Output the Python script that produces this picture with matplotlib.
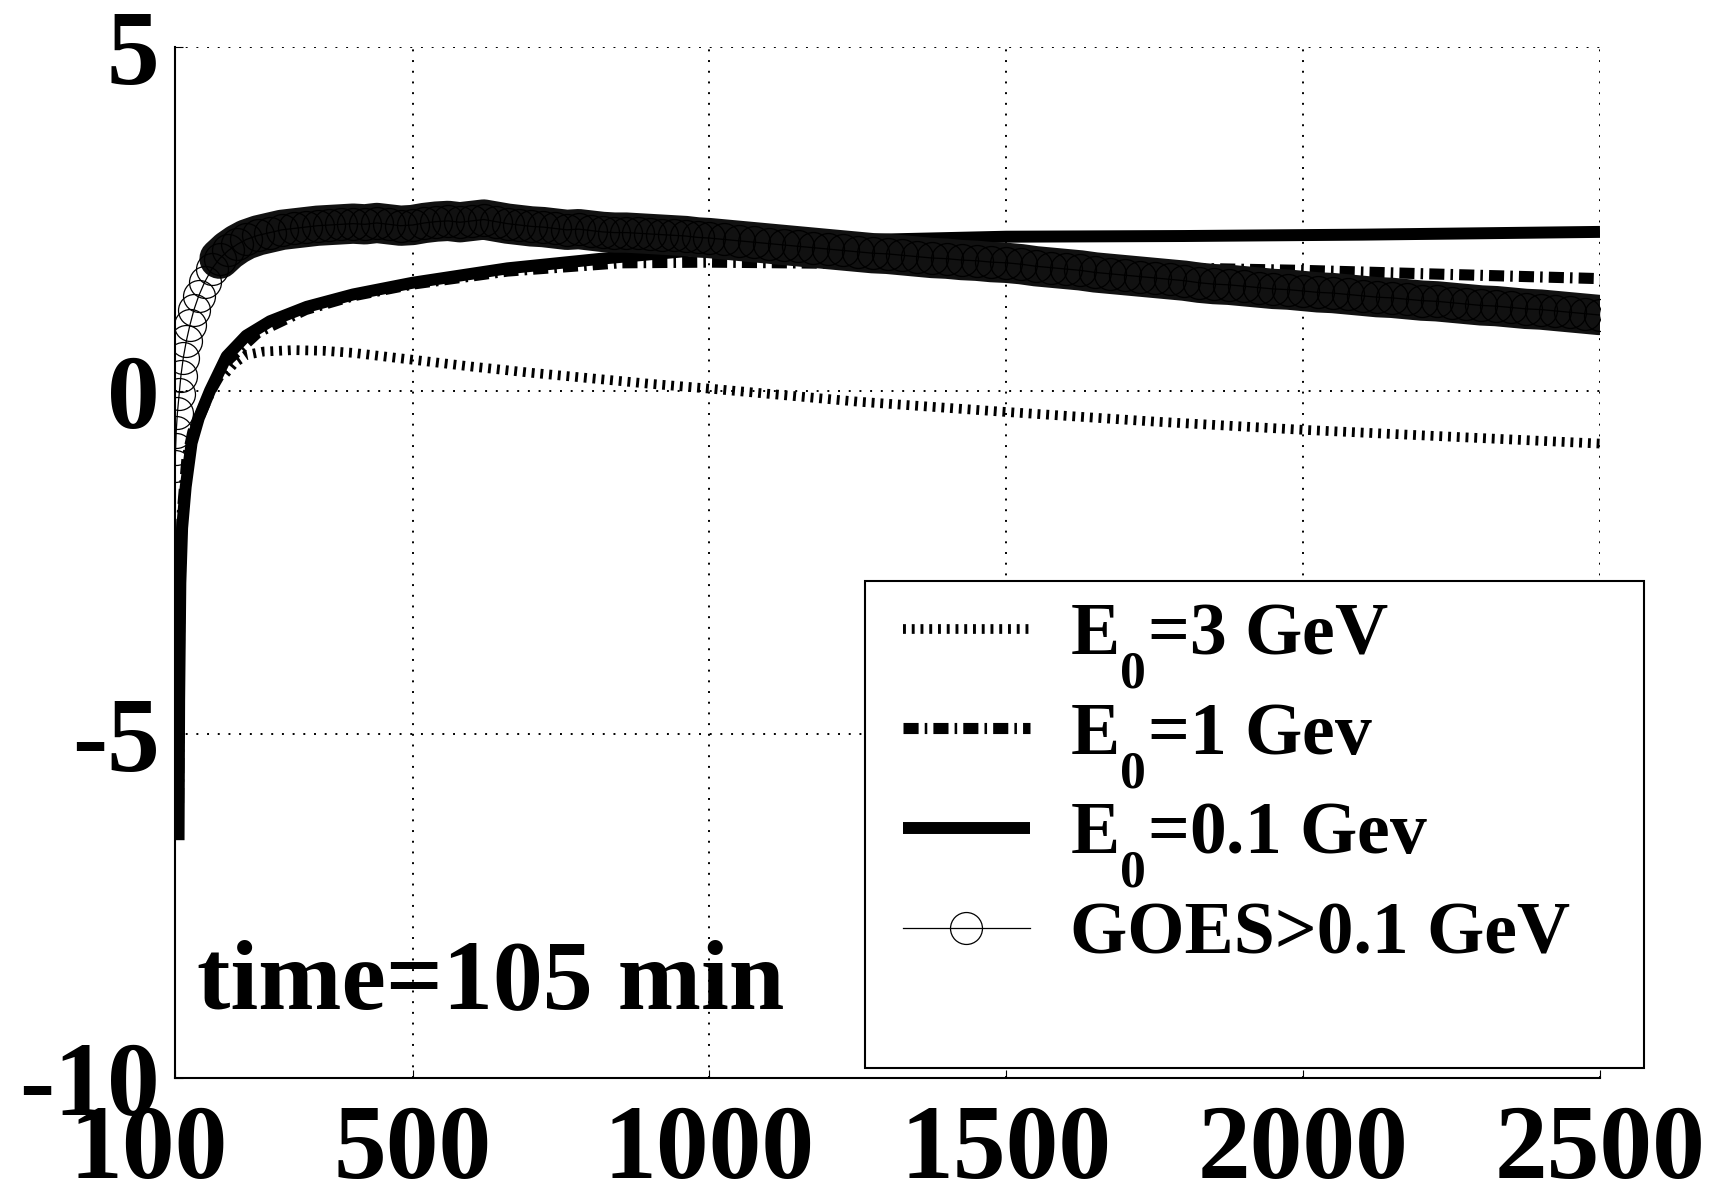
import matplotlib
matplotlib.use("Agg")
import matplotlib.pyplot as plt
import matplotlib.transforms as mtransforms
import matplotlib._mathtext as mathtext_internals
from matplotlib.patches import Rectangle

plt.rcParams['font.family'] = 'Liberation Serif'
plt.rcParams['font.weight'] = 'bold'
plt.rcParams['mathtext.fontset'] = 'custom'
plt.rcParams['mathtext.rm'] = 'Liberation Serif:bold'
plt.rcParams['mathtext.it'] = 'Liberation Serif:bold'
plt.rcParams['mathtext.default'] = 'rm'
plt.rcParams['axes.unicode_minus'] = False
# the subscript 0 sits low in the original (top of the 0 at the baseline of the E)
mathtext_internals.FontConstantsBase.sub1 = 1.0

"""Values read off the reference picture"""
x_ticks = [100, 500, 1000, 1500, 2000, 2500]
x_labels = ["100", "500", "1000", "1500", "2000", "2500"]
y_ticks = [-10, -5, 0, 5]
y_labels = ["-10", "-5", "0", "5"]

e3_t = [185, 200, 220, 250, 300, 350, 400, 500, 600, 700, 800, 900, 1000,
        1250, 1500, 1750, 2000, 2250, 2500]
e3_v = [0.25, 0.40, 0.52, 0.57, 0.59, 0.58, 0.55, 0.45, 0.35, 0.26, 0.18, 0.10, 0.03,
        -0.16, -0.31, -0.45, -0.57, -0.67, -0.77]

e1_t = [106, 108, 112, 120, 130, 160, 190, 240, 320, 400, 500, 660, 850, 1000,
        1250, 1500, 1750, 2000, 2250, 2500]
e1_v = [-6.0, -3.0, -1.8, -1.0, -0.6, 0.0, 0.45, 0.85, 1.18, 1.38, 1.55, 1.74, 1.86, 1.87,
        1.85, 1.82, 1.79, 1.75, 1.69, 1.63]

e01_t = [106, 107, 109, 112, 118, 128, 140, 159, 187, 220, 260, 322, 400, 500, 660, 830,
         1000, 1200, 1500, 1800, 2100, 2500]
e01_v = [-6.54, -4.5, -2.8, -2.0, -1.4, -0.76, -0.40, 0.0, 0.50, 0.80, 1.01, 1.22, 1.40,
         1.57, 1.78, 1.93, 2.06, 2.18, 2.24, 2.25, 2.27, 2.31]

goes_t = [100, 101, 102, 104, 107, 110, 114, 119, 125, 132, 140, 150, 162, 175, 190,
          205, 220, 240, 260, 280, 300, 320, 340, 360, 380, 400, 420, 440, 460, 480,
          500, 520, 540, 560, 580, 600, 620, 640, 660, 680, 700, 720, 740, 760, 780,
          800, 820, 840, 860, 880, 900, 920, 940, 960, 980, 1000,
          1025, 1050, 1075, 1100, 1125, 1150, 1175, 1200, 1225, 1250, 1275, 1300,
          1325, 1350, 1375, 1400, 1425, 1450, 1475, 1500, 1525, 1550, 1575, 1600,
          1625, 1650, 1675, 1700, 1725, 1750, 1775, 1800, 1825, 1850, 1875, 1900,
          1925, 1950, 1975, 2000, 2025, 2050, 2075, 2100, 2125, 2150, 2175, 2200,
          2225, 2250, 2275, 2300, 2325, 2350, 2375, 2400, 2425, 2450, 2475, 2500]
goes_v = [-1.10, -0.85, -0.60, -0.33, -0.05, 0.22, 0.48, 0.72, 0.95, 1.18, 1.38, 1.58,
          1.77, 1.92, 2.04, 2.13, 2.20, 2.26, 2.30, 2.34, 2.36, 2.38, 2.40, 2.41, 2.42,
          2.43, 2.42, 2.44, 2.42, 2.40, 2.41, 2.44, 2.46, 2.47, 2.45, 2.47, 2.49, 2.46,
          2.43, 2.41, 2.39, 2.38, 2.36, 2.34, 2.35, 2.33, 2.31, 2.30, 2.30, 2.29, 2.28,
          2.27, 2.26, 2.25, 2.23, 2.22,
          2.20, 2.18, 2.16, 2.14, 2.12, 2.10, 2.08, 2.06, 2.04, 2.02, 2.00, 1.99,
          1.97, 1.95, 1.93, 1.92, 1.90, 1.89, 1.87, 1.86, 1.84, 1.81, 1.79, 1.77,
          1.75, 1.72, 1.70, 1.68, 1.66, 1.64, 1.62, 1.60, 1.57, 1.55, 1.54, 1.52,
          1.50, 1.48, 1.47, 1.45, 1.43, 1.42, 1.40, 1.38, 1.36, 1.35, 1.33, 1.31,
          1.30, 1.28, 1.26, 1.24, 1.23, 1.21, 1.19, 1.18, 1.16, 1.14, 1.12, 1.10]

labels = [r"E$_0$=3 GeV", r"E$_0$=1 Gev", r"E$_0$=0.1 Gev", "GOES>0.1 GeV"]

fig = plt.figure(figsize=(17.16, 11.90), dpi=100)
ax = fig.add_axes([175 / 1716, 1 - 1078 / 1190, 1425 / 1716, 1031 / 1190])

ax.plot(e3_t, e3_v, color="k", lw=7, ls=(0, (0.3, 0.6)), dash_capstyle="butt",
        label=labels[0])
ax.plot(e1_t, e1_v, color="k", lw=8, ls=(0, (1.36, 0.55, 0.23, 0.55)), dash_capstyle="butt",
        label=labels[1])
ax.plot(e01_t, e01_v, color="k", lw=8.6, solid_capstyle="butt", label=labels[2])

# GOES points are so dense in the original that the band is nearly solid black
n_open = 14  # first points are spread out enough to show single circles
ax.plot(goes_t[n_open - 1:], goes_v[n_open - 1:], color="#111111", lw=29,
        solid_capstyle="round", solid_joinstyle="round")
ax.plot(goes_t, goes_v, color="k", lw=0.9, marker="o", markersize=23, mfc="none",
        mec="k", mew=0.9, label=labels[3])

ax.set_xlim(100, 2500)
ax.set_ylim(-10, 5)
ax.set_xticks(x_ticks, x_labels)
ax.set_yticks(y_ticks, y_labels)
ax.tick_params(axis="both", direction="in", length=6, labelsize=76)
ax.tick_params(axis="x", pad=19)
ax.tick_params(axis="y", pad=11)
ax.grid(True, color="k", lw=1.4, ls=(0, (1, 4.5)))
ax.spines["top"].set_visible(False)
ax.spines["right"].set_visible(False)
for s in ("left", "bottom"):
    ax.spines[s].set_linewidth(1.5)

# the "100" label is pushed a little to the left in the original
first = ax.get_xticklabels()[0]
first.set_transform(first.get_transform()
                    + mtransforms.ScaledTranslation(-0.26, 0, fig.dpi_scale_trans))

ax.text(0.0154, 0.068, "time=105 min", transform=ax.transAxes, fontsize=72,
        va="baseline", ha="left")

# legend box sticks out past the right edge of the axes
box = Rectangle((0.4842, 0.0097), 0.547, 0.4724, transform=ax.transAxes,
                facecolor="white", edgecolor="k", lw=1.5, clip_on=False, zorder=5)
ax.add_patch(box)
leg = ax.legend(loc="upper left", bbox_to_anchor=(0.511, 0.461), frameon=False,
                fontsize=53, handlelength=1.72, handletextpad=0.55, labelspacing=0.15,
                borderpad=0, borderaxespad=0, numpoints=1)
leg.set_zorder(6)

fig.savefig("out.png", dpi=100)
